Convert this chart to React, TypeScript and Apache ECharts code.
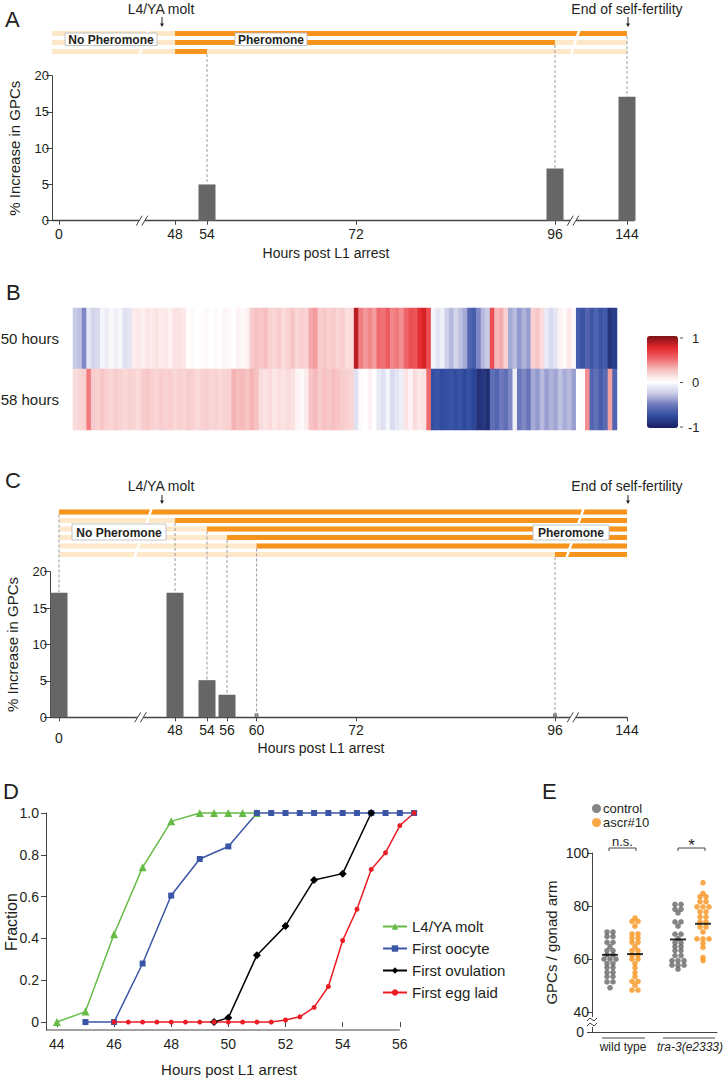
import React, { useEffect, useRef } from "react";
import * as echarts from "echarts";

// ---------------- DATA ----------------
// Panel A: pheromone window per stripe row [on, off] in hours, and GPC increase
const A_PHEROMONE = [[48, 144], [48, 96], [48, 54]];
const A_BAR_HOURS = [54, 96, 144];
const A_BAR_VALUES = [5.0, 7.2, 17.1];
const A_X_TICKS = [0, 48, 54, 72, 96, 144];

// Panel C
const C_PHEROMONE = [[0, 144], [48, 144], [54, 144], [56, 144], [60, 144], [96, 144]];
const C_BAR_HOURS = [0, 48, 54, 56, 60, 96];
const C_BAR_VALUES = [17.1, 17.1, 5.1, 3.1, 0, 0];
const C_X_TICKS = [0, 48, 54, 56, 60, 72, 96, 144];

const GPC_Y_MAX = 20;
const GPC_Y_STEP = 5;

// Panel B: heatmap rows (correlation, -1..1), one value per column
const B_ROWS = ["50 hours", "58 hours"];
const B_50H = [
  -0.25, -0.28, -0.45, -0.12, -0.2, -0.18, -0.05, -0.08, -0.03, -0.07,
  -0.04, -0.15, -0.12, 0.08, 0.1, 0.07, 0.11, 0.09, 0.12, 0.08,
  0.1, 0.06, 0.13, 0.12, 0.1, 0.01, 0.02, 0, 0.01, 0.03,
  0, 0.02, 0.01, 0.04, 0.02, 0, 0.05, 0.03, 0.06, 0.22,
  0.26, 0.24, 0.27, 0.2, 0.18, 0.22, 0.15, 0.2, 0.25, 0.17,
  0.21, 0.19, 0.33, 0.36, 0.22, 0.24, 0.2, 0.23, 0.18, 0.21,
  0.14, 0.16, 0.85, 0.45, 0.38, 0.42, 0.36, 0.5, 0.48, 0.55,
  0.42, 0.46, 0.4, 0.52, 0.6, 0.58, 0.72, 0.78, 0.6, -0.05,
  -0.12, -0.08, -0.22, -0.3, -0.2, -0.28, -0.35, -0.6, -0.65, -0.45,
  -0.3, -0.25, 0.6, 0.28, 0.32, 0.2, -0.35, -0.3, -0.4, -0.32,
  -0.38, 0.2, 0.25, 0.15, -0.1, -0.18, -0.12, 0.05, 0.02, 0.1,
  0.03, -0.65, -0.7, -0.6, -0.68, -0.62, -0.7, -0.66, -0.88, -0.82,
];
const B_58H = [
  0.15, 0.18, 0.2, 0.45, 0.22, 0.2, 0.24, 0.2, 0.18, 0.22,
  0.2, 0.17, 0.2, 0.18, 0.16, 0.22, 0.24, 0.2, 0.18, 0.22,
  0.19, 0.21, 0.17, 0.2, 0.18, 0.22, 0.2, 0.16, 0.19, 0.21,
  0.18, 0.2, 0.17, 0.19, 0.2, 0.3, 0.27, 0.28, 0.25, 0.3,
  0.26, 0.15, 0.12, 0.16, 0.1, 0.14, 0.12, 0.15, 0.13, 0.05,
  0.02, 0.08, 0.25, 0.28, 0.22, 0.26, 0.24, 0.27, 0.25, 0.22,
  0.2, 0.18, -0.15, 0.02, 0, 0.05, 0.01, -0.1, -0.15, -0.05,
  -0.18, -0.12, -0.08, 0.12, 0.05, 0.15, 0.1, 0.12, 0.5, -0.72,
  -0.7, -0.74, -0.72, -0.7, -0.73, -0.71, -0.75, -0.72, -0.78, -0.9,
  -0.86, -0.92, -0.55, -0.6, -0.5, -0.55, -0.45, -0.08, -0.5, -0.45,
  -0.52, -0.35, -0.4, -0.3, -0.38, -0.32, -0.36, -0.28, -0.34, -0.3,
  -0.38, 0, 0.02, 0.4, -0.6, -0.55, -0.65, -0.58, 0.35, -0.6,
];
const B_SCALE_TICKS = [1, 0, -1];

// Panel D: fraction of animals reaching each stage
const D_NAMES = ["L4/YA molt", "First oocyte", "First ovulation", "First egg laid"];
const D_MOLT_H = [44, 45, 46, 47, 48, 49, 49.5, 50, 50.5, 51];
const D_MOLT_F = [0, 0.05, 0.42, 0.74, 0.96, 1, 1, 1, 1, 1];
const D_OOCYTE_H = [45, 46, 47, 48, 49, 50, 51, 51.5, 52, 52.5, 53, 53.5, 54, 54.5, 55, 55.5, 56, 56.5];
const D_OOCYTE_F = [0, 0, 0.28, 0.605, 0.78, 0.84, 1, 1, 1, 1, 1, 1, 1, 1, 1, 1, 1, 1];
const D_OVUL_H = [49.5, 50, 51, 52, 53, 54, 55];
const D_OVUL_F = [0, 0.02, 0.32, 0.46, 0.68, 0.71, 1];
const D_EGG_H = [46, 46.5, 47, 47.5, 48, 48.5, 49, 49.5, 50, 50.5, 51, 51.5, 52, 52.5, 53, 53.5, 54, 54.5, 55, 55.5, 56, 56.5];
const D_EGG_F = [0, 0, 0, 0, 0, 0, 0, 0, 0, 0, 0, 0, 0.01, 0.025, 0.07, 0.17, 0.39, 0.54, 0.73, 0.81, 0.94, 1];
const D_X_TICKS = [44, 46, 48, 50, 52, 54, 56];
const D_Y_TICKS = [0, 0.2, 0.4, 0.6, 0.8, 1];

// Panel E: GPCs per gonad arm
const E_SERIES = ["control", "ascr#10"];
const E_GROUPS = ["wild type", "tra-3(e2333)"];
const E_WT_CONTROL = [70.2, 70.2, 68.5, 68.5, 66.3, 66.3, 64.7, 63.2, 63.2, 61.6, 61.6, 60, 60, 60, 58.3, 58.3, 56.8, 56.8, 55, 55, 53.4, 53.4, 51.4, 51.4, 49.2];
const E_WT_ASCR = [75.5, 74.2, 74.2, 72.4, 69.5, 69.5, 67.9, 67.9, 66.3, 66.3, 64.7, 63.2, 63.2, 61.5, 61.5, 60, 60, 58.3, 56.7, 54.9, 53.4, 51.6, 51.6, 50.1, 48.3, 48.3];
const E_TRA_CONTROL = [80.6, 80.6, 78.8, 78.8, 77.4, 74, 74, 72.4, 69.4, 69.4, 67.7, 66.2, 66.2, 64.7, 64.7, 63.2, 63.2, 61.3, 61.3, 59.4, 59.4, 59.4, 57.7, 57.7, 57.7, 56.2];
const E_TRA_ASCR = [88.8, 84.8, 83.5, 83.5, 81.6, 81.6, 79.7, 79.7, 79.7, 77.8, 77.8, 75.9, 75.9, 74, 74, 72.1, 72.1, 70.2, 67.6, 67.6, 67.6, 66, 64.4, 60.6, 59.4];
const E_MEANS = [61.6, 61.9, 67.4, 73.3]; // wt control, wt ascr#10, tra control, tra ascr#10
const E_SIGNIF = ["n.s.", "*"];
const E_Y_TICKS = [0, 40, 60, 80, 100];

// ---------------- LAYOUT / STYLE ----------------
const FONT = "'Liberation Sans', Arial, Helvetica, sans-serif";
const NARROW = "'Liberation Sans Narrow', 'Arial Narrow', 'Nimbus Sans Narrow', 'Liberation Sans', sans-serif";
const TEXT = "#231f20";
const AXIS = "#444444";
const ORANGE = "#f7941d";
const LIGHT = "#fde8ca";
const BAR = "#666666";
const GRAY_DOT = "#666666";
const HEAT_COLORS = ["#1c1f5e", "#2d4a9f", "#6d77bb", "#c9cbe6", "#ffffff", "#f7c5c6", "#ef6a6d", "#e2252b", "#7d1315"];

// non-uniform (broken) hour axis used in panels A and C: hour -> page pixel
const HOUR_PX = [[0, 59], [48, 175], [54, 207], [56, 227], [60, 256.6], [72, 356], [96, 555], [144, 627]];
function hourToPx(h: number) {
  for (let i = 0; i < HOUR_PX.length - 1; i++) {
    const [h0, p0] = HOUR_PX[i];
    const [h1, p1] = HOUR_PX[i + 1];
    if (h <= h1) return p0 + ((h - h0) * (p1 - p0)) / (h1 - h0);
  }
  return HOUR_PX[HOUR_PX.length - 1][1];
}

// E beeswarm: identical values are laid side by side
const E_GROUP_X = [18, 43, 86, 111];
const E_LABEL_X = [31, 98];
const E_ZERO_POS = 32.5;
function swarm(values: number[], cx: number, spacing: number) {
  const counts = new Map<number, number>();
  values.forEach((v) => counts.set(v, (counts.get(v) || 0) + 1));
  const seen = new Map<number, number>();
  return values.map((v) => {
    const n = counts.get(v)!;
    const k = seen.get(v) || 0;
    seen.set(v, k + 1);
    return [cx + (k - (n - 1) / 2) * spacing, v];
  });
}

function stripeRender(breaks: number[], stripeH: number) {
  return (params: any, api: any) => {
    const row = api.value(0);
    const s = api.coord([api.value(1), row]);
    const e = api.coord([api.value(2), row]);
    const os = api.coord([api.value(3), row]);
    const oe = api.coord([api.value(4), row]);
    const y0 = s[1] - stripeH / 2;
    const cs = params.coordSys;
    const midY = cs.y + cs.height / 2;
    const children: any[] = [
      { type: "rect", shape: { x: s[0], y: y0, width: e[0] - s[0], height: stripeH }, style: { fill: LIGHT } },
      { type: "rect", shape: { x: os[0], y: y0, width: oe[0] - os[0], height: stripeH }, style: { fill: ORANGE } },
    ];
    for (const b of breaks) {
      const bx = api.coord([b, row])[0];
      const k = 0.35;
      const g = 2.6;
      const yt = y0 - 0.5;
      const yb = y0 + stripeH + 0.5;
      const xt = bx + (midY - yt) * k;
      const xb = bx + (midY - yb) * k;
      children.push({
        type: "polygon",
        shape: { points: [[xb - g / 2, yb], [xb + g / 2, yb], [xt + g / 2, yt], [xt - g / 2, yt]] },
        style: { fill: "#ffffff" },
      });
    }
    return { type: "group", children };
  };
}

function axisBreakRender() {
  return (_p: any, api: any) => {
    const p = api.coord([api.value(0), 0]);
    const cx = p[0];
    const cy = p[1];
    const dx = 3;
    const dy = 5;
    const sep = 2.8;
    return {
      type: "group",
      children: [
        { type: "polygon", shape: { points: [[cx - sep - dx, cy + dy], [cx + sep - dx, cy + dy], [cx + sep + dx, cy - dy], [cx - sep + dx, cy - dy]] }, style: { fill: "#fff" } },
        { type: "line", shape: { x1: cx - sep - dx, y1: cy + dy, x2: cx - sep + dx, y2: cy - dy }, style: { stroke: AXIS, lineWidth: 1 } },
        { type: "line", shape: { x1: cx + sep - dx, y1: cy + dy, x2: cx + sep + dx, y2: cy - dy }, style: { stroke: AXIS, lineWidth: 1 } },
      ],
    };
  };
}

type HourPanel = {
  left: number;
  right: number;
  stripeTop: number;
  rowH: number;
  stripeH: number;
  rows: number[][];
  stripeStartHour: number | null;
  barTop: number;
  barH: number;
  hours: number[];
  values: number[];
  ticks: number[];
  stripeBreaksPx: number[];
  axisBreaksPx: number[];
  connectRow: (h: number) => number;
  lowZeroLabel: boolean;
};

function addHourPanel(opt: any, c: HourPanel) {
  const w = c.right - c.left;
  const disp = (h: number) => hourToPx(h) - c.left;
  const endHour = Math.max(...c.rows.map((r) => r[1]));
  const gi = opt.grid.length;
  opt.grid.push({ left: c.left, top: c.stripeTop, width: w, height: c.rows.length * c.rowH, outerBoundsMode: "none" });
  opt.xAxis.push({ gridIndex: gi, type: "value", min: 0, max: w, show: false });
  opt.yAxis.push({ gridIndex: gi, type: "category", data: c.rows.map((_r, i) => String(i)), inverse: true, show: false });
  opt.series.push({
    type: "custom",
    xAxisIndex: gi,
    yAxisIndex: gi,
    renderItem: stripeRender(c.stripeBreaksPx.map((p) => p - c.left), c.stripeH),
    encode: { x: [1, 2, 3, 4], y: 0 },
    data: c.rows.map((r, i) => [i, c.stripeStartHour === null ? 0 : disp(c.stripeStartHour), disp(endHour), disp(r[0]), disp(r[1])]),
    clip: false,
    silent: true,
    z: 2,
  });

  const bi = gi + 1;
  const tickDisp = c.ticks.map(disp);
  opt.grid.push({ left: c.left, top: c.barTop, width: w, height: c.barH, outerBoundsMode: "none" });
  opt.xAxis.push({
    gridIndex: bi,
    type: "value",
    min: 0,
    max: w,
    splitLine: { show: false },
    axisLine: { show: true, lineStyle: { color: AXIS, width: 1.3 } },
    axisTick: { show: true, customValues: tickDisp, length: 4, lineStyle: { color: AXIS } },
    axisLabel: {
      customValues: tickDisp,
      margin: 6,
      fontFamily: NARROW,
      fontSize: 14,
      color: TEXT,
      formatter: (v: number) => {
        const i = tickDisp.findIndex((d) => Math.abs(d - v) < 0.01);
        if (i < 0) return "";
        const h = c.ticks[i];
        return c.lowZeroLabel && h === 0 ? "{low|0}" : String(h);
      },
      rich: { low: { fontFamily: NARROW, fontSize: 14, color: TEXT, padding: [8, 0, 0, 0] } },
    },
  });
  opt.yAxis.push({
    gridIndex: bi,
    type: "value",
    min: 0,
    max: GPC_Y_MAX,
    interval: GPC_Y_STEP,
    splitLine: { show: false },
    axisLine: { show: true, lineStyle: { color: AXIS, width: 1 } },
    axisTick: { show: true, length: 6, lineStyle: { color: AXIS } },
    axisLabel: { fontSize: 13, color: TEXT, margin: 3, fontFamily: FONT },
    name: "% Increase in GPCs",
    nameLocation: "middle",
    nameGap: 30,
    nameTextStyle: { fontSize: 15, color: TEXT, fontFamily: FONT },
  });
  opt.series.push({
    type: "bar",
    xAxisIndex: bi,
    yAxisIndex: bi,
    data: c.hours.map((h, i) => [disp(h), c.values[i]]),
    barWidth: 17,
    itemStyle: { color: BAR },
    silent: true,
    z: 3,
  });
  opt.series.push({
    type: "scatter",
    xAxisIndex: bi,
    yAxisIndex: bi,
    data: c.hours.filter((_h, i) => c.values[i] === 0).map((h) => [disp(h), 0]),
    symbol: "rect",
    symbolSize: [4, 4],
    symbolOffset: [0, -2],
    itemStyle: { color: BAR },
    silent: true,
    z: 3,
  });
  const rowBottom = (r: number) => c.stripeTop + (r + 0.5) * c.rowH + c.stripeH / 2;
  opt.series.push({
    type: "custom",
    xAxisIndex: bi,
    yAxisIndex: bi,
    clip: false,
    silent: true,
    z: 4,
    data: c.hours.map((h, i) => [disp(h), c.values[i], c.connectRow(h)]),
    renderItem: (_p: any, api: any) => {
      const p = api.coord([api.value(0), api.value(1)]);
      return {
        type: "line",
        shape: { x1: p[0], y1: rowBottom(api.value(2)), x2: p[0], y2: p[1] },
        style: { stroke: "#9c9c9c", lineWidth: 1, lineDash: [3, 2] },
      };
    },
  });
  opt.series.push({
    type: "custom",
    xAxisIndex: bi,
    yAxisIndex: bi,
    clip: false,
    silent: true,
    z: 5,
    data: c.axisBreaksPx.map((p) => [p - c.left, 0]),
    renderItem: axisBreakRender(),
  });
}

function txt(text: string, x: number, y: number, size: number, extra: any = {}) {
  return {
    type: "text",
    z: 100,
    style: { text, x, y, fontSize: size, fontFamily: FONT, fill: TEXT, align: "center", verticalAlign: "middle", ...extra },
  };
}
function arrow(x: number, y0: number, y1: number) {
  return [
    { type: "line", z: 100, shape: { x1: x, y1: y0, x2: x, y2: y1 - 2 }, style: { stroke: TEXT, lineWidth: 1 } },
    { type: "polygon", z: 100, shape: { points: [[x - 2, y1 - 3.5], [x + 2, y1 - 3.5], [x, y1]] }, style: { fill: TEXT } },
  ];
}
function labelBox(text: string, x: number, y: number, w: number, h: number) {
  return [
    { type: "rect", z: 100, shape: { x, y, width: w, height: h }, style: { fill: "#ffffff", stroke: "#b5b5b5", lineWidth: 0.8 } },
    txt(text, x + w / 2, y + h / 2 + 0.5, 12, { fontWeight: "bold" }),
  ];
}

function buildOption() {
  const opt: any = {
    animation: false,
    backgroundColor: "#ffffff",
    textStyle: { fontFamily: FONT },
    grid: [],
    xAxis: [],
    yAxis: [],
    series: [],
  };

  // ---- Panel A ----
  addHourPanel(opt, {
    left: 52,
    right: 634,
    stripeTop: 29,
    rowH: 9,
    stripeH: 5,
    rows: A_PHEROMONE,
    stripeStartHour: null,
    barTop: 75.7,
    barH: 145,
    hours: A_BAR_HOURS,
    values: A_BAR_VALUES,
    ticks: A_X_TICKS,
    stripeBreaksPx: [144, 575],
    axisBreaksPx: [142, 573],
    connectRow: (h) => A_PHEROMONE.findIndex((r) => r[1] === h),
    lowZeroLabel: false,
  });

  // ---- Panel B (heatmap) ----
  const hi = opt.grid.length;
  opt.grid.push({ left: 73, top: 308, width: 544, height: 122, outerBoundsMode: "none" });
  opt.xAxis.push({ gridIndex: hi, type: "category", data: B_50H.map((_v, i) => String(i)), show: false });
  opt.yAxis.push({
    gridIndex: hi,
    type: "category",
    data: B_ROWS,
    inverse: true,
    axisLine: { show: false },
    axisTick: { show: false },
    splitLine: { show: false },
    axisLabel: { fontSize: 15, color: TEXT, margin: 14, fontFamily: FONT },
  });
  const heatIdx = opt.series.length;
  opt.series.push({
    type: "heatmap",
    xAxisIndex: hi,
    yAxisIndex: hi,
    data: [...B_50H.map((v, i) => [i, 0, v]), ...B_58H.map((v, i) => [i, 1, v])],
    itemStyle: { borderWidth: 0 },
    emphasis: { disabled: true },
    progressive: 0,
    silent: true,
  });
  opt.visualMap = [
    {
      type: "continuous",
      seriesIndex: heatIdx,
      min: -1,
      max: 1,
      calculable: false,
      orient: "vertical",
      left: 647,
      top: 336,
      itemWidth: 31,
      itemHeight: 92,
      padding: 0,
      text: ["", ""],
      inRange: { color: HEAT_COLORS },
      textStyle: { fontSize: 1, color: "rgba(0,0,0,0)" },
    },
  ];

  // ---- Panel C ----
  addHourPanel(opt, {
    left: 50,
    right: 627,
    stripeTop: 507.75,
    rowH: 8.5,
    stripeH: 5,
    rows: C_PHEROMONE,
    stripeStartHour: 0,
    barTop: 571.7,
    barH: 145.6,
    hours: C_BAR_HOURS,
    values: C_BAR_VALUES,
    ticks: C_X_TICKS,
    stripeBreaksPx: [143, 575],
    axisBreaksPx: [140.5, 573],
    connectRow: (h) => C_PHEROMONE.findIndex((r) => r[0] === h),
    lowZeroLabel: true,
  });

  // ---- Panel D ----
  // The plotted range runs to 56.5 h (last observations) while the drawn axis line stops at 56 h.
  const D_LEFT = 46;
  const D_XMIN = 43.62;
  const D_XMAX = 56.5;
  const D_PX_PER_H = 28.58;
  const di = opt.grid.length;
  opt.grid.push({ left: D_LEFT, top: 813, width: (D_XMAX - D_XMIN) * D_PX_PER_H, height: 217, outerBoundsMode: "none" });
  opt.xAxis.push({
    gridIndex: di,
    type: "value",
    min: D_XMIN,
    max: D_XMAX,
    splitLine: { show: false },
    axisLine: { show: false },
    axisTick: { show: true, customValues: D_X_TICKS, length: 5, lineStyle: { color: AXIS } },
    axisLabel: { customValues: D_X_TICKS, fontSize: 14, color: TEXT, margin: 7, fontFamily: FONT },
  });
  opt.yAxis.push({
    gridIndex: di,
    type: "value",
    min: -0.038,
    max: 1,
    splitLine: { show: false },
    axisLine: { show: true, lineStyle: { color: AXIS, width: 1 } },
    axisTick: { show: true, customValues: D_Y_TICKS, length: 5, lineStyle: { color: AXIS } },
    axisLabel: {
      customValues: D_Y_TICKS,
      fontSize: 14,
      color: TEXT,
      margin: 7,
      fontFamily: FONT,
      formatter: (v: number) => (Math.abs(v) < 1e-9 ? "0" : v.toFixed(1)),
    },
  });
  const dSeries = [
    { name: D_NAMES[0], h: D_MOLT_H, f: D_MOLT_F, color: "#66bb46", symbol: "triangle", size: 8 },
    { name: D_NAMES[1], h: D_OOCYTE_H, f: D_OOCYTE_F, color: "#3a55a5", symbol: "rect", size: 6 },
    { name: D_NAMES[2], h: D_OVUL_H, f: D_OVUL_F, color: "#000000", symbol: "diamond", size: 8 },
    { name: D_NAMES[3], h: D_EGG_H, f: D_EGG_F, color: "#ec1c24", symbol: "circle", size: 5 },
  ];
  dSeries.forEach((s) => {
    opt.series.push({
      type: "line",
      name: s.name,
      xAxisIndex: di,
      yAxisIndex: di,
      data: s.h.map((h, i) => [h, s.f[i]]),
      symbol: s.symbol,
      symbolSize: s.size,
      showAllSymbol: true,
      clip: false,
      lineStyle: { color: s.color, width: 1.5 },
      itemStyle: { color: s.color },
      silent: true,
      z: 3,
    });
  });

  // ---- Panel E ----
  const ei = opt.grid.length;
  opt.grid.push({ left: 592, top: 853, width: 125, height: 179, outerBoundsMode: "none" });
  opt.xAxis.push({
    gridIndex: ei,
    type: "value",
    min: 0,
    max: 125,
    splitLine: { show: false },
    axisLine: { show: true, lineStyle: { color: AXIS, width: 1 } },
    axisTick: { show: false },
    axisLabel: {
      customValues: E_LABEL_X,
      margin: 9,
      fontSize: 12,
      color: TEXT,
      fontFamily: FONT,
      formatter: (v: number) => (v < 60 ? E_GROUPS[0] : "{i|" + E_GROUPS[1] + "}"),
      rich: { i: { fontStyle: "italic", fontSize: 12, color: TEXT, fontFamily: FONT } },
    },
  });
  const eTickPos = E_Y_TICKS.map((t) => (t === 0 ? E_ZERO_POS : t));
  opt.yAxis.push({
    gridIndex: ei,
    type: "value",
    min: E_ZERO_POS,
    max: 100,
    splitLine: { show: false },
    axisLine: { show: true, lineStyle: { color: AXIS, width: 1 } },
    axisTick: { show: true, customValues: eTickPos, length: 5, lineStyle: { color: AXIS } },
    axisLabel: {
      customValues: eTickPos.filter((p) => p > E_ZERO_POS),
      showMaxLabel: true,
      fontSize: 14,
      color: TEXT,
      margin: 3,
      fontFamily: FONT,
      formatter: (v: number) => String(Math.round(v)),
    },
    name: "GPCs / gonad arm",
    nameLocation: "middle",
    nameGap: 33,
    nameTextStyle: { fontSize: 15, color: TEXT, fontFamily: FONT },
  });
  opt.series.push({
    type: "scatter",
    name: E_SERIES[0],
    xAxisIndex: ei,
    yAxisIndex: ei,
    data: [...swarm(E_WT_CONTROL, E_GROUP_X[0], 6), ...swarm(E_TRA_CONTROL, E_GROUP_X[2], 6)],
    symbolSize: 5.6,
    itemStyle: { color: GRAY_DOT },
    silent: true,
  });
  opt.series.push({
    type: "scatter",
    name: E_SERIES[1],
    xAxisIndex: ei,
    yAxisIndex: ei,
    data: [...swarm(E_WT_ASCR, E_GROUP_X[1], 6), ...swarm(E_TRA_ASCR, E_GROUP_X[3], 6)],
    symbolSize: 5.6,
    itemStyle: { color: ORANGE },
    silent: true,
  });
  opt.series.push({
    type: "scatter",
    name: "mean",
    xAxisIndex: ei,
    yAxisIndex: ei,
    data: E_MEANS.map((m, i) => [E_GROUP_X[i], m]),
    symbol: "rect",
    symbolSize: [16, 2],
    itemStyle: { color: "#000000" },
    silent: true,
    z: 5,
  });

  opt.legend = [
    {
      data: D_NAMES,
      left: 377,
      top: 914,
      orient: "vertical",
      itemWidth: 24,
      itemHeight: 8,
      itemGap: 7,
      selectedMode: false,
      textStyle: { fontSize: 15, color: TEXT, fontFamily: FONT },
    },
    {
      data: E_SERIES,
      left: 587,
      top: 797,
      orient: "vertical",
      icon: "circle",
      itemWidth: 9,
      itemHeight: 9,
      itemGap: 1,
      selectedMode: false,
      textStyle: { fontSize: 13, color: TEXT, fontFamily: FONT, padding: [0, 0, 0, -3] },
    },
  ];

  // ---- annotations ----
  const g: any[] = [];
  const letter = (t: string, x: number, y: number) => txt(t, x, y, 22, { align: "left" });
  g.push(letter("A", 5, 19), letter("B", 6, 292), letter("C", 5, 480), letter("D", 3, 791), letter("E", 542, 791));
  g.push(txt("L4/YA molt", 161, 9, 14));
  g.push(...arrow(162, 17, 27));
  g.push(txt("End of self-fertility", 627, 9, 14));
  g.push(...arrow(628, 17, 27));
  g.push(...labelBox("No Pheromone", 65, 33, 92, 12.5));
  g.push(...labelBox("Pheromone", 235, 33, 72, 12.5));
  g.push(txt("Hours post L1 arrest", 326, 253, 14));

  B_SCALE_TICKS.forEach((t, i) => {
    const y = 338 + (i * (427 - 338)) / (B_SCALE_TICKS.length - 1);
    g.push({ type: "line", z: 100, shape: { x1: 680, y1: y, x2: 683, y2: y }, style: { stroke: "#555", lineWidth: 1 } });
    g.push(txt(String(t), t < 0 ? 688 : 692, y, 13, { align: "left" }));
  });

  g.push(txt("L4/YA molt", 161, 486, 14));
  g.push(...arrow(162, 495, 504));
  g.push(txt("End of self-fertility", 627, 486, 14));
  g.push(...arrow(628, 495, 504));
  g.push(...labelBox("No Pheromone", 72, 524, 94, 16));
  g.push(...labelBox("Pheromone", 533, 525, 76, 15));
  g.push(txt("Hours post L1 arrest", 321, 748, 14));

  // panel D: x axis line (stops at the 56 h tick) and the axis titles
  const dAxisEnd = D_LEFT + (D_X_TICKS[D_X_TICKS.length - 1] - D_XMIN) * D_PX_PER_H;
  g.push({ type: "line", z: 100, shape: { x1: D_LEFT, y1: 1030, x2: dAxisEnd, y2: 1030 }, style: { stroke: AXIS, lineWidth: 1 } });
  g.push(txt("Hours post L1 arrest", 229, 1069, 15));
  g.push({
    type: "text",
    z: 100,
    x: 11,
    y: 922,
    rotation: Math.PI / 2,
    style: { text: "Fraction", x: 0, y: 0, fontSize: 16, fontFamily: FONT, fill: TEXT, align: "center", verticalAlign: "middle" },
  });

  // panel E decorations
  g.push(txt(String(E_Y_TICKS[0]), 584, 1032, 14, { align: "right" }));
  const bracket = (x0: number, x1: number, y: number) => ({
    type: "polyline",
    z: 100,
    shape: { points: [[x0, y + 3], [x0, y], [x1, y], [x1, y + 3]] },
    style: { stroke: AXIS, lineWidth: 1, fill: "none" },
  });
  g.push(bracket(609, 636, 848), txt(E_SIGNIF[0], 622.5, 841, 13));
  g.push(bracket(678, 705, 848), txt(E_SIGNIF[1], 691.5, 845, 17));
  g.push({ type: "line", z: 100, shape: { x1: 602, y1: 1038, x2: 645, y2: 1038 }, style: { stroke: AXIS, lineWidth: 1 } });
  g.push({ type: "line", z: 100, shape: { x1: 663, y1: 1038, x2: 715, y2: 1038 }, style: { stroke: AXIS, lineWidth: 1 } });
  g.push({ type: "rect", z: 100, shape: { x: 589, y: 1017, width: 6, height: 10 }, style: { fill: "#ffffff" } });
  g.push({ type: "polyline", z: 101, shape: { points: [[587, 1021], [590, 1018], [594, 1021], [597, 1018]] }, style: { stroke: AXIS, lineWidth: 1, fill: "none" } });
  g.push({ type: "polyline", z: 101, shape: { points: [[587, 1026], [590, 1023], [594, 1026], [597, 1023]] }, style: { stroke: AXIS, lineWidth: 1, fill: "none" } });

  opt.graphic = g;
  return opt;
}

export default function App() {
  const ref = useRef<HTMLDivElement>(null);
  useEffect(() => {
    if (!ref.current) return;
    const chart = echarts.init(ref.current, undefined, { renderer: "svg" });
    chart.setOption(buildOption());
    return () => chart.dispose();
  }, []);
  return <div ref={ref} style={{ position: "absolute", left: 0, top: 0, width: 727, height: 1080, background: "#fff" }} />;
}
